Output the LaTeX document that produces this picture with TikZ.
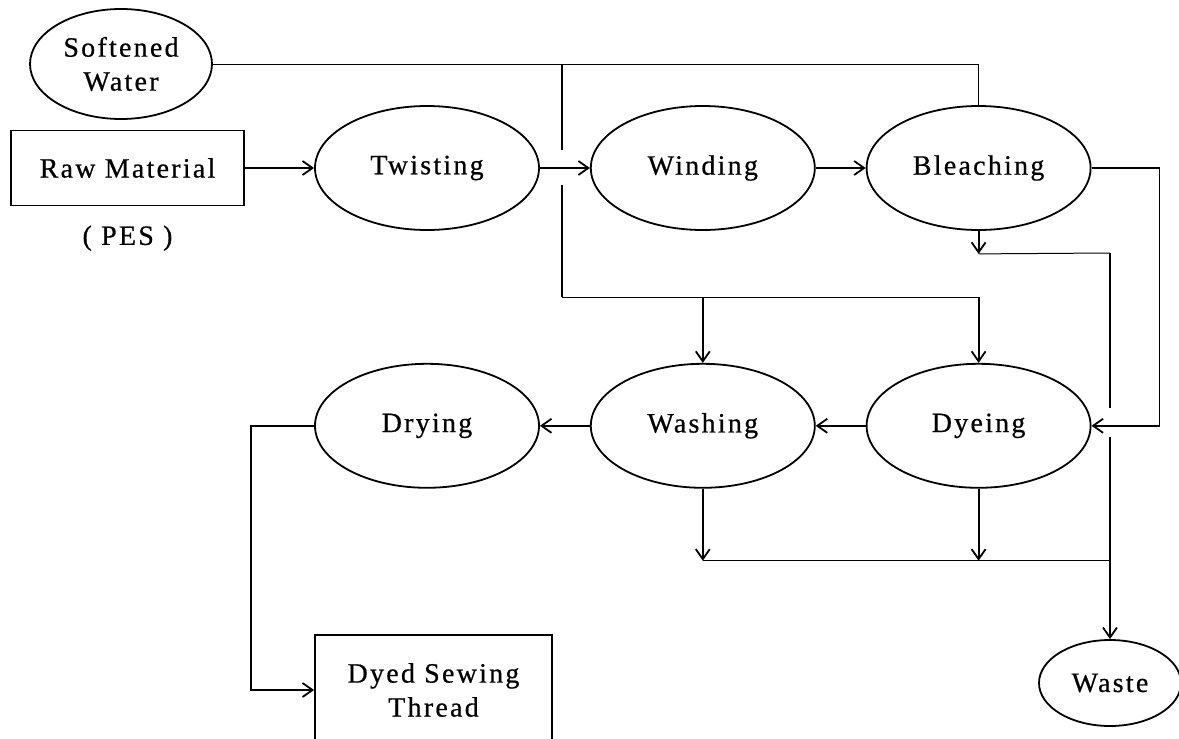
\documentclass[tikz,border=0pt]{standalone}
\usepackage{fontspec}
\setmainfont{Liberation Serif}[LetterSpace=8, FakeBold=0.6]
\usepackage{tikz}
\usetikzlibrary{positioning, arrows.meta, calc, shapes.geometric}

\tikzset{
  process/.style={ellipse, draw, line width=0.9pt, minimum width=112pt,
                  minimum height=62pt, inner sep=0pt, align=center,
                  font=\fontsize{14}{17}\selectfont},
  stockbox/.style={rectangle, draw, line width=0.9pt, inner sep=0pt,
                   align=center, font=\fontsize{14}{17}\selectfont},
  flow/.style={line width=0.9pt, -{Straight Barb[length=5pt, width=7pt]}},
  pipe/.style={line width=0.9pt},
  thinpipe/.style={line width=0.5pt}
}

\begin{document}
\begin{tikzpicture}[x=0.5pt, y=-0.5pt]
  \useasboundingbox (0,0) rectangle (1179,739);

  % inputs
  \node[process, minimum width=91pt, minimum height=55pt] (water) at (121,64) {Softened\\Water};
  \node[stockbox, minimum width=116.5pt, minimum height=37.5pt] (raw) at (127.5,168) {Raw Material};
  \node[below=6pt of raw, font=\fontsize{14}{17}\selectfont] (pes) {( PES )};

  % process steps
  \node[process] (twist) at (427,168) {Twisting};
  \node[process, right=25pt of twist] (wind) {Winding};
  \node[process, right=25pt of wind] (bleach) {Bleaching};
  \node[process, below=66pt of bleach] (dye) {Dyeing};
  \node[process, left=25pt of dye] (wash) {Washing};
  \node[process, left=25pt of wash] (dry) {Drying};

  % outputs
  \node[stockbox, minimum width=118.5pt, minimum height=55pt] (thread) at (433.5,690) {Dyed Sewing\\Thread};
  \node[process, minimum width=71pt, minimum height=43pt] (waste) at (1110,683) {Waste};

  % junction points
  \coordinate (wtap) at (562,64);
  \coordinate (wgapa) at (562,150);
  \coordinate (wgapb) at (562,185);
  \coordinate (wbus) at (562,297);
  \coordinate (bdrop) at ($(bleach.south)+(0,23)$);
  \coordinate (wdrain) at (1110,253);
  \coordinate (wgapc) at (1110,408);
  \coordinate (wgapd) at (1110,437);
  \coordinate (lbus) at ($(wash.south)+(0,72)$);

  % main line
  \draw[flow] (raw.east) -- (twist.west);
  \draw[flow] (twist.east) -- (wind.west);
  \draw[flow] (wind.east) -- (bleach.west);
  \draw[flow] (bleach.east) -- ++(68,0) |- (dye.east);
  \draw[flow] (dye.west) -- (wash.east);
  \draw[flow] (wash.west) -- (dry.east);
  \draw[flow] (dry.west) -- ++(-63,0) |- (thread.west);

  % softened water
  \draw[thinpipe] (water.east) -| (bleach.north);
  \draw[pipe] (wtap) -- (wgapa);
  \draw[pipe] (wgapb) -- (wbus);
  \draw[thinpipe] (wbus) -- (wbus -| dye.north);
  \draw[flow] (wbus -| wash.north) -- (wash.north);
  \draw[flow] (wbus -| dye.north) -- (dye.north);

  % waste water
  \draw[flow] (bleach.south) -- (bdrop);
  \draw[thinpipe] (bdrop) -- (wdrain);
  \draw[pipe] (wdrain) -- (wgapc);
  \draw[flow] (wgapd) -- (waste.north);
  \draw[flow] (wash.south) -- (lbus);
  \draw[flow] (dye.south) -- (dye.south |- lbus);
  \draw[thinpipe] (lbus) -- (lbus -| wdrain);
\end{tikzpicture}
\end{document}
